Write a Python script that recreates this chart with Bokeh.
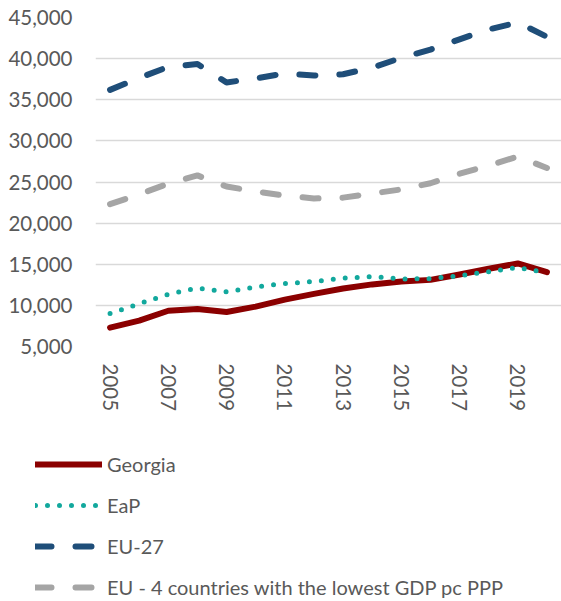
from bokeh.plotting import figure
from bokeh.layouts import column
from bokeh.models import Range1d, FixedTicker, NumeralTickFormatter, Legend, LegendItem
from bokeh.embed import file_html
from bokeh.resources import INLINE

# ---- data ----
years = list(range(2005, 2021))
georgia = [7300, 8150, 9350, 9550, 9200, 9850, 10700, 11400, 12050, 12550, 12900, 13100, 13750, 14450, 15100, 14050]
eap = [9000, 10200, 11350, 12100, 11650, 12250, 12650, 12900, 13300, 13500, 13200, 13250, 13600, 14100, 14600, 14000]
eu27 = [36200, 37650, 39000, 39350, 37100, 37600, 38200, 37950, 38100, 38900, 40100, 41100, 42350, 43550, 44400, 42650]
eu4 = [22300, 23500, 24800, 25800, 24450, 23850, 23350, 23000, 23100, 23600, 24100, 24850, 26000, 27000, 28100, 26700]

series_labels = ["Georgia", "EaP", "EU-27", "EU - 4 countries with the lowest GDP pc PPP"]
x_tick_years = [2005, 2007, 2009, 2011, 2013, 2015, 2017, 2019]
x_tick_labels = ["2005", "2007", "2009", "2011", "2013", "2015", "2017", "2019"]
y_ticks = [5000, 10000, 15000, 20000, 25000, 30000, 35000, 40000, 45000]

FONT = "Lato"
TXT = "#595959"
FS = "20.5px"

styles = {
    "Georgia": dict(line_color="#8B0000", line_width=6, line_cap="round", line_join="round"),
    "EaP": dict(line_color="#12A89D", line_width=5, line_dash="0 12", line_cap="round", line_join="round"),
    "EU-27": dict(line_color="#1F4E79", line_width=6, line_dash="16 24", line_cap="round", line_join="round"),
    "EU4": dict(line_color="#A5A5A5", line_width=6, line_dash="16 24", line_cap="round", line_join="round"),
}

# ---- main chart ----
p = figure(width=561, height=430, output_backend="svg", toolbar_location=None,
           x_range=Range1d(2004.5, 2020.5), y_range=Range1d(5000, 45000),
           min_border_left=95, min_border_right=0, min_border_top=17, min_border_bottom=84)
p.frame_align = False
p.outline_line_color = None
p.background_fill_color = "white"
p.border_fill_color = "white"

p.xgrid.visible = False
p.ygrid.ticker = FixedTicker(ticks=y_ticks)
p.ygrid.grid_line_color = "#D9D9D9"
p.ygrid.grid_line_width = 1.5

ya = p.yaxis[0]
ya.ticker = FixedTicker(ticks=y_ticks)
ya.formatter = NumeralTickFormatter(format="0,0")
ya.axis_line_color = None
ya.major_tick_line_color = None
ya.minor_tick_line_color = None
ya.major_tick_out = 0
ya.major_label_standoff = 23
ya.major_label_text_font = FONT
ya.major_label_text_font_size = FS
ya.major_label_text_color = TXT

xa = p.xaxis[0]
xa.ticker = FixedTicker(ticks=x_tick_years)
xa.major_label_overrides = {y: s for y, s in zip(x_tick_years, x_tick_labels)}
xa.axis_line_color = None
xa.major_tick_line_color = None
xa.minor_tick_line_color = None
xa.major_tick_out = 0
xa.major_label_standoff = 17
xa.major_label_orientation = "vertical"
xa.major_label_text_font = FONT
xa.major_label_text_font_size = FS
xa.major_label_text_color = TXT

p.line(years, eu27, **styles["EU-27"])
p.line(years, eu4, **styles["EU4"])
p.line(years, georgia, **styles["Georgia"])
p.line(years, eap, **styles["EaP"])

# ---- legend panel below the chart (its key lines lie outside its visible range) ----
q = figure(width=561, height=171, output_backend="svg", toolbar_location=None,
           x_range=Range1d(0, 1), y_range=Range1d(0, 1),
           x_axis_location=None, y_axis_location=None,
           min_border_left=0, min_border_right=0, min_border_top=0, min_border_bottom=0)
q.frame_align = False
q.outline_line_color = None
q.xgrid.visible = False
q.ygrid.visible = False
q.background_fill_color = "white"
q.border_fill_color = "white"

k_geo = q.line(years, georgia, **styles["Georgia"])
k_eap = q.line(years, eap, **styles["EaP"])
k_eu27 = q.line(years, eu27, **styles["EU-27"])
k_eu4 = q.line(years, eu4, **styles["EU4"])

legend = Legend(items=[LegendItem(label=series_labels[0], renderers=[k_geo]),
                       LegendItem(label=series_labels[1], renderers=[k_eap]),
                       LegendItem(label=series_labels[2], renderers=[k_eu27]),
                       LegendItem(label=series_labels[3], renderers=[k_eu4])],
                location=(35, 2), orientation="vertical",
                glyph_width=67, glyph_height=20, label_height=20, spacing=17,
                padding=0, margin=0, border_line_color=None, background_fill_alpha=0,
                label_standoff=5, label_text_font=FONT, label_text_font_size="20px",
                label_text_color=TXT)
q.add_layout(legend, "center")

layout = column(p, q, spacing=0)
open("out.html", "w").write(file_html(layout, INLINE))
